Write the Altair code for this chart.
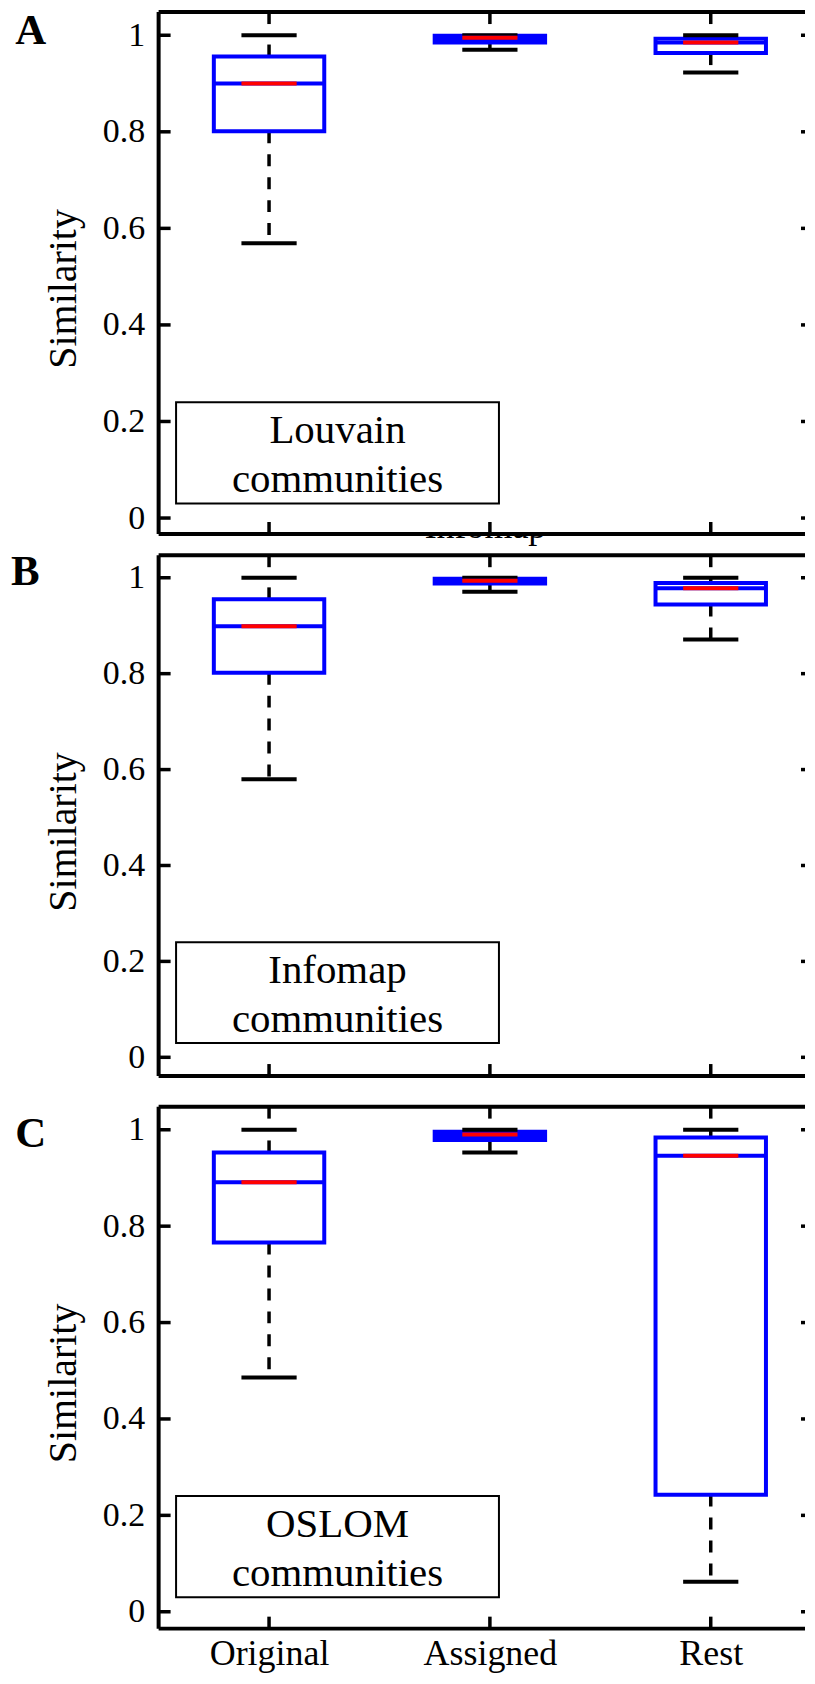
import altair as alt
import pandas as pd

# ---------------- data ----------------
categories = ["Original", "Assigned", "Rest"]
category_positions = [1, 2, 3]
panel_letters = ["A", "B", "C"]
legend_lines = [["Louvain", "communities"],
                ["Infomap", "communities"],
                ["OSLOM", "communities"]]
y_tick_values = [0, 0.2, 0.4, 0.6, 0.8, 1]
ghost_title = "Infomap"

# box statistics per panel: (Original, Assigned, Rest)
louvain_lower = [0.569, 0.970, 0.923]
louvain_q1 = [0.801, 0.985, 0.963]
louvain_median = [0.900, 0.995, 0.985]
louvain_q3 = [0.956, 0.999, 0.993]
louvain_upper = [1.000, 1.000, 1.000]

infomap_lower = [0.580, 0.971, 0.871]
infomap_q1 = [0.802, 0.988, 0.944]
infomap_median = [0.899, 0.994, 0.978]
infomap_q3 = [0.955, 0.998, 0.989]
infomap_upper = [1.000, 1.000, 1.000]

oslom_lower = [0.486, 0.953, 0.0625]
oslom_q1 = [0.766, 0.979, 0.243]
oslom_median = [0.891, 0.990, 0.946]
oslom_q3 = [0.953, 0.996, 0.984]
oslom_upper = [1.000, 1.000, 1.000]

# ---------------- layout / style ----------------
W = 648
X_DOMAIN = [0.5, 0.5 + W / 221.4]
BOX_HALF = 0.25
CAP_HALF = 0.125
FILLED_IQR = 0.02
LEG_X = [0.579, 2.041]
LEG_Y = [0.03, 0.24]
LEG_TEXT_X = 1.31
LEG_TEXT_Y = [0.155, 0.053]
GHOST_X = 1.98
TICK_LEN = 12
RIGHT_TICK_LEN = 4
FRAME_W = 4
SPACING = 20.5
BLUE, RED, BLACK = "#0000ff", "#ff0000", "#000000"
FONT = "Liberation Serif"

xscale = alt.Scale(domain=X_DOMAIN, nice=False, zero=False)

label_expr = "[" + ",".join("'" + c + "'" for c in [""] + categories) + "][datum.value]"
xaxis_bottom = alt.Axis(values=category_positions, labelExpr=label_expr, labelFont=FONT,
                        labelFontSize=36, labelColor=BLACK, labelPadding=8, ticks=False,
                        tickSize=0, domain=False, grid=False, title=None, labelFlush=False)


def make_panel(lower, q1, med, q3, upper, legend, letter, letter_xy, show_x,
               frame_h, y_lo, y_hi, top_pad=0.0, ghost=None):
    H = top_pad + frame_h
    y_top = y_hi + top_pad * (y_hi - y_lo) / frame_h
    yscale = alt.Scale(domain=[y_lo, y_top], nice=False, zero=False)
    yaxis = alt.Axis(values=y_tick_values, format="~g", labelFont=FONT, labelFontSize=34,
                     labelColor=BLACK, labelPadding=14, ticks=False, tickSize=0,
                     domain=False, grid=False, title="Similarity", titleFont=FONT,
                     titleFontSize=40, titleFontWeight="normal", titleColor=BLACK,
                     titleAngle=270, titleX=-83, titleY=top_pad + 277, titleAlign="center",
                     titleBaseline="alphabetic")
    df = pd.DataFrame({"cat": categories, "pos": category_positions, "lower": lower,
                       "q1": q1, "median": med, "q3": q3, "upper": upper})
    xaxis = xaxis_bottom if show_x else None

    def X(f):
        return alt.X(f, type="quantitative", scale=xscale, axis=xaxis)

    def Y(f):
        return alt.Y(f, type="quantitative", scale=yscale, axis=yaxis)

    base = alt.Chart(df).transform_calculate(
        box_l=f"datum.pos - {BOX_HALF}", box_r=f"datum.pos + {BOX_HALF}",
        cap_l=f"datum.pos - {CAP_HALF}", cap_r=f"datum.pos + {CAP_HALF}")
    one = alt.Chart(pd.DataFrame({"k": [0]}))

    layers = []
    if ghost:
        gdf = pd.DataFrame({"t": [ghost], "x": [GHOST_X]})
        layers.append(alt.Chart(gdf).mark_text(font=FONT, fontSize=36, align="center",
                                               baseline="alphabetic", color=BLACK)
                      .encode(text="t:N", x=X("x"), y=alt.value(H + 4)))
        layers.append(alt.Chart(gdf).mark_rect(fill="white")
                      .encode(x=alt.value(240), x2=alt.value(420),
                              y=alt.value(H - 36), y2=alt.value(H - 2)))

    # frame (top, bottom, left)
    fr = one.mark_rule(color=BLACK, strokeWidth=FRAME_W)
    layers.append(fr.encode(x=alt.value(0), x2=alt.value(W), y=alt.value(top_pad)))
    layers.append(fr.encode(x=alt.value(0), x2=alt.value(W), y=alt.value(H)))
    layers.append(fr.encode(x=alt.value(0), y=alt.value(top_pad), y2=alt.value(H)))

    ldf = pd.DataFrame({"x0": [LEG_X[0]], "x1": [LEG_X[1]], "y0": [LEG_Y[0]], "y1": [LEG_Y[1]]})
    layers.append(alt.Chart(ldf).mark_rect(fill="white", stroke=BLACK, strokeWidth=2)
                  .encode(x=X("x0"), x2="x1", y=Y("y0"), y2="y1"))
    tdf = pd.DataFrame({"t": legend, "x": [LEG_TEXT_X] * len(legend), "y": LEG_TEXT_Y})
    layers.append(alt.Chart(tdf).mark_text(font=FONT, fontSize=41, align="center",
                                           baseline="alphabetic", color=BLACK)
                  .encode(text="t:N", x=X("x"), y=Y("y")))

    dash = base.mark_rule(color=BLACK, strokeWidth=3.5, strokeDash=[12, 11])
    layers.append(dash.encode(x=X("pos"), y=Y("q1"), y2="lower"))
    layers.append(dash.encode(x=X("pos"), y=Y("q3"), y2="upper"))

    fill = alt.when(f"datum.q3 - datum.q1 < {FILLED_IQR}").then(alt.value(BLUE)).otherwise(alt.value("transparent"))
    layers.append(base.mark_rect(stroke=BLUE, strokeWidth=4)
                  .encode(x=X("box_l"), x2="box_r", y=Y("q1"), y2="q3", fill=fill))

    cap = base.mark_rule(color=BLACK, strokeWidth=4)
    layers.append(cap.encode(x=X("cap_l"), x2="cap_r", y=Y("upper")))
    layers.append(cap.encode(x=X("cap_l"), x2="cap_r", y=Y("lower")))

    layers.append(base.mark_rule(color=BLUE, strokeWidth=4)
                  .encode(x=X("box_l"), x2="box_r", y=Y("median")))
    layers.append(base.mark_rule(color=RED, strokeWidth=4)
                  .encode(x=X("cap_l"), x2="cap_r", y=Y("median")))

    ydf = pd.DataFrame({"v": y_tick_values})
    tk = alt.Chart(ydf).mark_rule(color=BLACK, strokeWidth=3.5)
    layers.append(tk.encode(y=Y("v"), x=alt.value(0), x2=alt.value(TICK_LEN)))
    layers.append(tk.encode(y=Y("v"), x=alt.value(W - RIGHT_TICK_LEN), x2=alt.value(W)))
    xdf = pd.DataFrame({"p": category_positions})
    tkx = alt.Chart(xdf).mark_rule(color=BLACK, strokeWidth=3.5)
    layers.append(tkx.encode(x=X("p"), y=alt.value(top_pad), y2=alt.value(top_pad + TICK_LEN)))
    layers.append(tkx.encode(x=X("p"), y=alt.value(H), y2=alt.value(H - TICK_LEN)))

    layers.append(alt.Chart(pd.DataFrame({"t": [letter]}))
                  .mark_text(font=FONT, fontSize=43, fontWeight="bold", align="left",
                             baseline="alphabetic", color=BLACK)
                  .encode(text="t:N", x=alt.value(letter_xy[0]),
                          y=alt.value(top_pad + letter_xy[1])))
    return alt.layer(*layers).properties(width=W, height=H)


panel_a = make_panel(louvain_lower, louvain_q1, louvain_median, louvain_q3, louvain_upper,
                     legend_lines[0], panel_letters[0], (-143.7, 32), False,
                     523.2, -0.033, 1.048, ghost=ghost_title)
panel_b = make_panel(infomap_lower, infomap_q1, infomap_median, infomap_q3, infomap_upper,
                     legend_lines[1], panel_letters[1], (-147.9, 29.4), False,
                     522.1, -0.039, 1.047)
panel_c = make_panel(oslom_lower, oslom_q1, oslom_median, oslom_q3, oslom_upper,
                     legend_lines[2], panel_letters[2], (-143.7, 40.4), True,
                     523.3, -0.035, 1.048, top_pad=9.3)

chart = (alt.vconcat(panel_a, panel_b, panel_c, spacing=SPACING, bounds="flush")
         .properties(padding={"left": 3, "top": 0, "right": 0, "bottom": 0})
         .configure(font=FONT)
         .configure_view(stroke="transparent", strokeWidth=0))

chart.save("out.html", embed_options={"renderer": "svg", "actions": False})
